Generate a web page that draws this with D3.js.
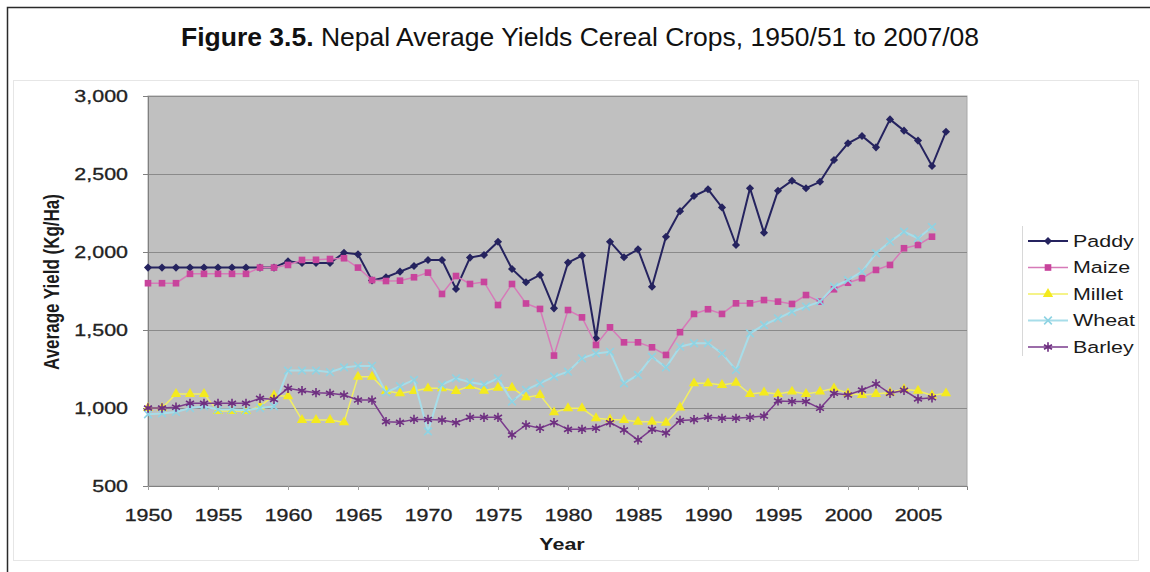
<!DOCTYPE html>
<html>
<head>
<meta charset="utf-8">
<script src="https://cdn.jsdelivr.net/npm/d3@7"></script>
<style>
  body { margin: 0; background: #fff; }
  svg { display: block; font-family: "Liberation Sans", Arial, sans-serif; }
</style>
</head>
<body>
<div id="chart"></div>
<script>
// tamaños
var chart_width  = 1150;
var chart_height = 572;
var margin = { top: 96, bottom: 486, left: 148, right: 967 };

// datos
var years = [1950,1951,1952,1953,1954,1955,1956,1957,1958,1959,
             1960,1961,1962,1963,1964,1965,1966,1967,1968,1969,
             1970,1971,1972,1973,1974,1975,1976,1977,1978,1979,
             1980,1981,1982,1983,1984,1985,1986,1987,1988,1989,
             1990,1991,1992,1993,1994,1995,1996,1997,1998,1999,
             2000,2001,2002,2003,2004,2005,2006,2007];

var paddy = [1900,1900,1900,1900,1900,1900,1900,1900,1900,1900,
             1940,1930,1930,1930,1995,1985,1818,1838,1874,1910,
             1949,1949,1763,1964,1981,2066,1891,1806,1853,1639,
             1932,1977,1447,2066,1966,2017,1778,2098,2262,2359,
             2402,2286,2045,2409,2124,2393,2457,2409,2450,2590,
             2697,2744,2671,2850,2778,2714,2551,2771];

var maize = [1800,1800,1800,1860,1860,1860,1860,1860,1900,1900,
             1917,1949,1950,1955,1960,1900,1820,1814,1816,1838,
             1868,1731,1846,1795,1808,1660,1795,1670,1635,1336,
             1628,1581,1404,1517,1421,1421,1389,1340,1486,1603,
             1633,1603,1671,1671,1692,1682,1667,1724,1682,1761,
             1803,1832,1885,1917,2024,2045,2098];

var millet = [1000,1000,1090,1090,1090,980,980,980,1010,1080,
              1075,923,923,923,908,1200,1200,1109,1094,1109,
              1126,1126,1109,1141,1111,1130,1130,1068,1083,972,
              998,998,934,927,923,912,912,906,1003,1158,
              1158,1147,1162,1090,1100,1090,1105,1090,1105,1126,
              1094,1083,1090,1100,1120,1111,1080,1094];

var wheat = [960,965,975,1000,1010,990,990,985,1000,1010,
             1240,1240,1240,1230,1260,1270,1270,1100,1140,1180,
             850,1150,1190,1165,1150,1190,1041,1116,1158,1201,
             1233,1318,1350,1360,1158,1212,1329,1260,1393,1415,
             1415,1350,1244,1479,1532,1575,1617,1650,1682,1778,
             1820,1874,1992,2066,2130,2088,2160];

var barley = [1000,1000,1005,1030,1030,1030,1030,1030,1062,1055,
              1126,1111,1098,1094,1083,1051,1051,912,908,927,
              927,923,906,940,940,940,827,891,870,906,
              863,863,870,906,859,795,863,840,920,925,
              940,934,934,940,948,1045,1041,1041,998,1094,
              1083,1115,1154,1094,1113,1058,1065];

var yTicks = [500,1000,1500,2000,2500,3000];
var xTicks = [1950,1955,1960,1965,1970,1975,1980,1985,1990,1995,2000,2005];

var series = [
  { name: "Paddy",  values: paddy,  line: "#25235f", mark: "#25235f", sym: d3.symbolDiamond2 || d3.symbolSquare, size: 42, width: 2,   stroke: false, rot: (d3.symbolDiamond2 ? 0 : 45) },
  { name: "Maize",  values: maize,  line: "#d67ab8", mark: "#c8449c", sym: d3.symbolSquare,   size: 44, width: 1.5, stroke: false, rot: 0 },
  { name: "Millet", values: millet, line: "#f2ef62", mark: "#f4ea1e", sym: d3.symbolTriangle, size: 46, width: 1.5, stroke: false, rot: 0 },
  { name: "Wheat",  values: wheat,  line: "#a7dde9", mark: "#8ed3e3", sym: d3.symbolX,        size: 40, width: 2,   stroke: true,  rot: 0 },
  { name: "Barley", values: barley, line: "#7a3b8c", mark: "#6e2f80", sym: d3.symbolAsterisk, size: 60, width: 1.5, stroke: true,  rot: 0 }
];

var stretch = 1.3; // el grafico original esta estirado a lo ancho

var svg = d3.select("#chart")
  .append("svg")
  .attr("width", chart_width)
  .attr("height", chart_height);

// marco de la pagina
svg.append("path")
  .attr("d", "M7.5,572 L7.5,7.5 L1150,7.5")
  .attr("fill", "none")
  .attr("stroke", "#2a2a2a")
  .attr("stroke-width", 1.5);

// borde tenue del area del grafico
svg.append("rect")
  .attr("x", 13.5).attr("y", 80.5)
  .attr("width", 1125).attr("height", 480)
  .attr("fill", "none")
  .attr("stroke", "#e6e6e6");

// titulo
var title = svg.append("text")
  .attr("x", 580)
  .attr("y", 46)
  .attr("text-anchor", "middle")
  .style("font-size", "26.5px")
  .style("fill", "#111");
title.append("tspan").attr("font-weight", "bold").text("Figure 3.5.");
title.append("tspan").text(" Nepal Average Yields Cereal Crops, 1950/51 to 2007/08");

// escalas
var escalaX = d3.scaleLinear()
  .domain([1950, 2008.5])
  .range([margin.left, margin.right]);

var escalaY = d3.scaleLinear()
  .domain([500, 3000])
  .range([margin.bottom, margin.top]);

// fondo gris
svg.append("rect")
  .attr("x", margin.left)
  .attr("y", margin.top)
  .attr("width", margin.right - margin.left)
  .attr("height", margin.bottom - margin.top)
  .attr("fill", "#c0c0c0")
  .attr("stroke", "#a8a8a8");

// lineas de cuadricula
svg.append("g")
  .selectAll("line")
  .data(yTicks.slice(1))
  .join("line")
  .attr("x1", margin.left)
  .attr("x2", margin.right)
  .attr("y1", d => escalaY(d) + 0.5)
  .attr("y2", d => escalaY(d) + 0.5)
  .attr("stroke", "#8a8a8a")
  .attr("stroke-width", 1);

// ejes
var ejeY = d3.axisLeft(escalaY)
  .tickValues(yTicks)
  .tickFormat(d3.format(","))
  .tickSize(5)
  .tickPadding(0);

var gY = svg.append("g")
  .attr("transform", "translate(" + margin.left + ",0)")
  .call(ejeY);
gY.select(".domain").attr("stroke", "#808080");
gY.selectAll(".tick line").attr("stroke", "#808080");
gY.selectAll("text")
  .attr("x", -20 / stretch)
  .attr("transform", "scale(" + stretch + ",1)")
  .style("font-size", "16.5px")
  .style("fill", "#222")
  .style("stroke", "#222")
  .style("stroke-width", 0.3);

var ejeX = d3.axisBottom(escalaX)
  .tickValues(xTicks)
  .tickFormat(d3.format("d"))
  .tickSize(4)
  .tickPadding(0);

var gX = svg.append("g")
  .attr("transform", "translate(0," + margin.bottom + ")")
  .call(ejeX);
gX.select(".domain").attr("stroke", "#808080");
gX.selectAll(".tick line").attr("stroke", "#a0a0a0");
gX.selectAll("text")
  .attr("y", 35)
  .attr("dy", null)
  .attr("transform", "scale(" + stretch + ",1)")
  .style("font-size", "16.5px")
  .style("fill", "#222")
  .style("stroke", "#222")
  .style("stroke-width", 0.3);

// titulos de ejes
svg.append("text")
  .attr("text-anchor", "middle")
  .attr("transform", "translate(562,550) scale(" + stretch + ",1)")
  .style("font-size", "16.5px")
  .style("font-weight", "bold")
  .style("fill", "#1a1a1a")
  .text("Year");

svg.append("text")
  .attr("text-anchor", "middle")
  .attr("transform", "translate(59,282) scale(" + stretch + ",1) rotate(-90)")
  .style("font-size", "17px")
  .style("font-weight", "bold")
  .style("fill", "#1a1a1a")
  .text("Average Yield (Kg/Ha)");

// lineas y marcadores
var linea = d3.line()
  .x(function(d, i) { return escalaX(years[i]); })
  .y(function(d) { return escalaY(d); });

function dibujaMarca(sel, s) {
  sel.attr("d", d3.symbol().type(s.sym).size(s.size))
    .attr("fill", s.stroke ? "none" : s.mark)
    .attr("stroke", s.stroke ? s.mark : "none")
    .attr("stroke-width", s.stroke ? 1.6 : 0);
}

series.forEach(function(s) {
  var g = svg.append("g");
  g.append("path")
    .datum(s.values)
    .attr("fill", "none")
    .attr("stroke", s.line)
    .attr("stroke-width", s.width)
    .attr("d", linea);
  g.selectAll(".marca")
    .data(s.values)
    .join("path")
    .attr("class", "marca")
    .attr("transform", function(d, i) {
      return "translate(" + escalaX(years[i]) + "," + escalaY(d) + ") rotate(" + s.rot + ")";
    })
    .call(dibujaMarca, s);
});

// leyenda
svg.append("line")
  .attr("x1", 1022.5).attr("x2", 1022.5)
  .attr("y1", 226).attr("y2", 356)
  .attr("stroke", "#d8d8d8");

var leyenda = svg.append("g")
  .selectAll("g")
  .data(series)
  .join("g")
  .attr("transform", function(d, i) { return "translate(0," + (241 + i * 26.5) + ")"; });

leyenda.append("line")
  .attr("x1", 1028).attr("x2", 1068)
  .attr("stroke", d => d.line)
  .attr("stroke-width", d => d.width);

leyenda.append("path")
  .attr("transform", d => "translate(1048,0) rotate(" + d.rot + ")")
  .each(function(d) { d3.select(this).call(dibujaMarca, d); });

leyenda.append("text")
  .attr("transform", "translate(1073,0) scale(" + stretch + ",1)")
  .attr("dy", "0.35em")
  .style("font-size", "16.5px")
  .style("fill", "#1a1a1a")
  .text(d => d.name);
</script>
</body>
</html>
